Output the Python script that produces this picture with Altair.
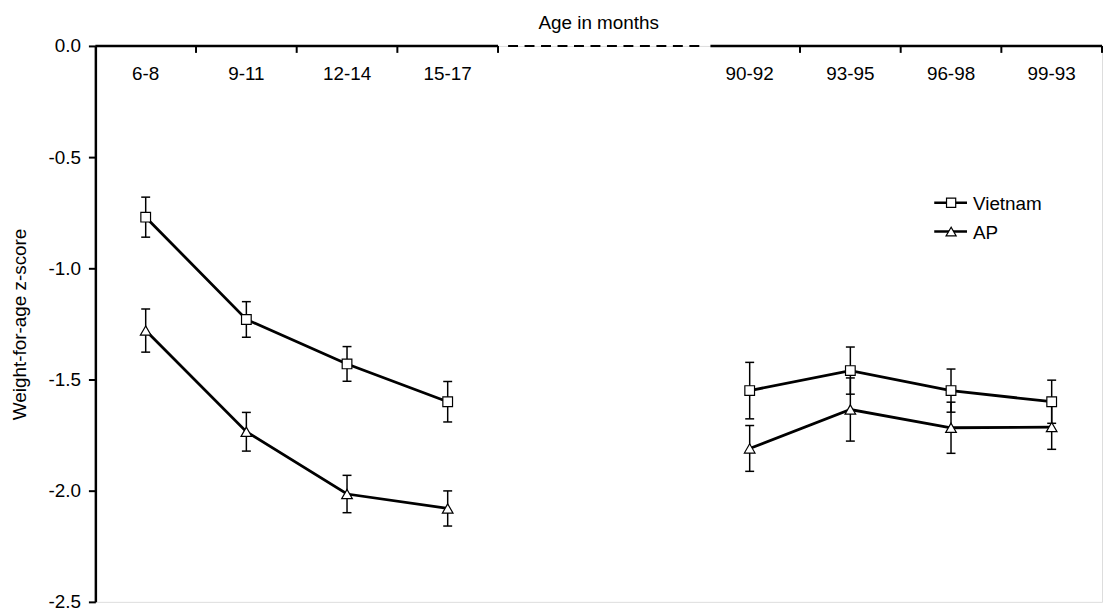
import altair as alt
import pandas as pd

# ---------------- data ----------------
age_groups = ["6-8", "9-11", "12-14", "15-17", "90-92", "93-95", "96-98", "99-93"]
series_names = ["Vietnam", "AP"]
vietnam_mean = [-0.77, -1.23, -1.43, -1.60, -1.55, -1.46, -1.55, -1.60]
vietnam_se = [0.09, 0.08, 0.078, 0.091, 0.127, 0.106, 0.097, 0.097]
ap_mean = [-1.28, -1.735, -2.015, -2.08, -1.81, -1.635, -1.717, -1.714]
ap_se = [0.097, 0.087, 0.084, 0.079, 0.103, 0.142, 0.115, 0.10]
y_ticks = [0.0, -0.5, -1.0, -1.5, -2.0, -2.5]
x_title = "Age in months"
y_title = "Weight-for-age z-score"

# ---------------- layout helpers ----------------
FONT = "Liberation Sans"
FS = 19
N_EARLY = 4   # first block of age groups
GAP = 2       # empty bands on the broken axis


def band_pos(i):
    return i if i < N_EARLY else i + GAP


rows = []
for name, means, ses in [("Vietnam", vietnam_mean, vietnam_se), ("AP", ap_mean, ap_se)]:
    for i, (g, m, s) in enumerate(zip(age_groups, means, ses)):
        rows.append(dict(series=name, age=g, pos=band_pos(i),
                         part="early" if i < N_EARLY else "late",
                         mean=m, lo=m - s, hi=m + s))
df = pd.DataFrame(rows)

n_bands = len(age_groups) + GAP
xs = alt.Scale(domain=[-0.5, n_bands - 0.5], nice=False, zero=False)
ys = alt.Scale(domain=[-2.5, 0.0], nice=False, zero=False)

yaxis = alt.Axis(
    values=y_ticks, format=".1f", labelExpr="replace(datum.label, '\u2212', '-')",
    title=y_title, grid=False,
    domainColor="black", domainWidth=2.5,
    tickColor="black", tickWidth=2, tickSize=7,
    labelPadding=8, labelFontSize=FS, labelColor="black", labelFont=FONT,
    titleFontSize=FS, titleFontWeight="normal", titleColor="black", titleFont=FONT,
    titleX=-76, titleY=280, titleAngle=-90, titleAlign="center", titleBaseline="middle",
)


def X(field):
    return alt.X(field, type="quantitative", scale=xs, axis=None)


def Y(field):
    return alt.Y(field, type="quantitative", scale=ys, axis=yaxis)


y_top = alt.YDatum(0, scale=ys, axis=yaxis)

# ---------------- broken x axis along the top ----------------
left_end = band_pos(N_EARLY - 1) + 0.5
right_start = band_pos(N_EARLY) - 0.5
one = pd.DataFrame({"k": [0]})

seg_left = alt.Chart(one).mark_rule(color="black", strokeWidth=2.5).encode(
    x=alt.XDatum(-0.5, scale=xs, axis=None), x2=alt.X2Datum(left_end), y=y_top)
seg_dash = alt.Chart(one).mark_rule(color="black", strokeWidth=2, strokeDash=[10, 6.6]).encode(
    x=alt.XDatum(left_end + 0.1, scale=xs, axis=None), x2=alt.X2Datum(right_start), y=y_top)
seg_right = alt.Chart(one).mark_rule(color="black", strokeWidth=2.5).encode(
    x=alt.XDatum(right_start + 0.11, scale=xs, axis=None), x2=alt.X2Datum(n_bands - 0.5), y=y_top)

ticks_df = pd.DataFrame({"t": [band_pos(i) + 0.5 for i in range(len(age_groups))]})
xticks = alt.Chart(ticks_df).mark_rule(color="black", strokeWidth=2).encode(
    x=X("t"), y=y_top, y2=alt.value(7))

labels_df = pd.DataFrame({"age": age_groups, "pos": [band_pos(i) for i in range(len(age_groups))]})
xlabels = alt.Chart(labels_df).mark_text(
    font=FONT, fontSize=FS, color="black", baseline="alphabetic", align="center", dy=34
).encode(x=X("pos"), y=y_top, text="age:N")

xtitle = alt.Chart(pd.DataFrame({"t": [x_title]})).mark_text(
    font=FONT, fontSize=FS, color="black", baseline="alphabetic", align="center", dy=-17
).encode(x=alt.XDatum((n_bands - 1) / 2, scale=xs, axis=None), y=y_top, text="t:N")

# ---------------- data marks ----------------
bars = alt.Chart(df).mark_rule(color="black", strokeWidth=1.5).encode(
    x=X("pos"), y=Y("lo"), y2="hi:Q")
cap_lo = alt.Chart(df).mark_tick(color="black", orient="horizontal", size=9,
                                 thickness=1.5, opacity=1).encode(x=X("pos"), y=Y("lo"))
cap_hi = alt.Chart(df).mark_tick(color="black", orient="horizontal", size=9,
                                 thickness=1.5, opacity=1).encode(x=X("pos"), y=Y("hi"))
lines = alt.Chart(df).mark_line(color="black", strokeWidth=2.8).encode(
    x=X("pos"), y=Y("mean"), detail=["series:N", "part:N"], order="pos:Q")

shapes = {"Vietnam": ("square", 95), "AP": ("triangle-up", 115)}
point_layers = []
legend_layers = []
for k, name in enumerate(series_names):
    shp, sz = shapes[name]
    point_layers.append(
        alt.Chart(df[df.series == name]).mark_point(
            shape=shp, size=sz, filled=True, fill="white", stroke="black",
            strokeWidth=1.2, opacity=1).encode(x=X("pos"), y=Y("mean")))
    ly = 158 + 29 * k
    ldf = pd.DataFrame({"series": [name]})
    legend_layers += [
        alt.Chart(ldf).mark_rule(color="black", strokeWidth=2.5).encode(
            x=alt.value(845), x2=alt.value(878), y=alt.value(ly)),
        alt.Chart(ldf).mark_point(shape=shp, size=sz * 0.9, filled=True, fill="white",
                                  stroke="black", strokeWidth=1.2, opacity=1).encode(
            x=alt.value(862), y=alt.value(ly)),
        alt.Chart(ldf).mark_text(font=FONT, fontSize=FS, color="black", align="left",
                                 baseline="alphabetic", dy=7).encode(
            x=alt.value(884), y=alt.value(ly), text="series:N"),
    ]

chart = alt.layer(
    seg_left, seg_dash, seg_right, xticks, xlabels, xtitle,
    bars, cap_lo, cap_hi, lines, *point_layers, *legend_layers
).properties(
    width=1014, height=560,
    autosize=alt.AutoSizeParams(type="none"),
    padding={"left": 88, "top": 36, "right": 2, "bottom": 8},
).configure_view(strokeWidth=0).configure(font=FONT, background="white")

chart.save("out.html", embed_options={"renderer": "svg", "actions": False})
